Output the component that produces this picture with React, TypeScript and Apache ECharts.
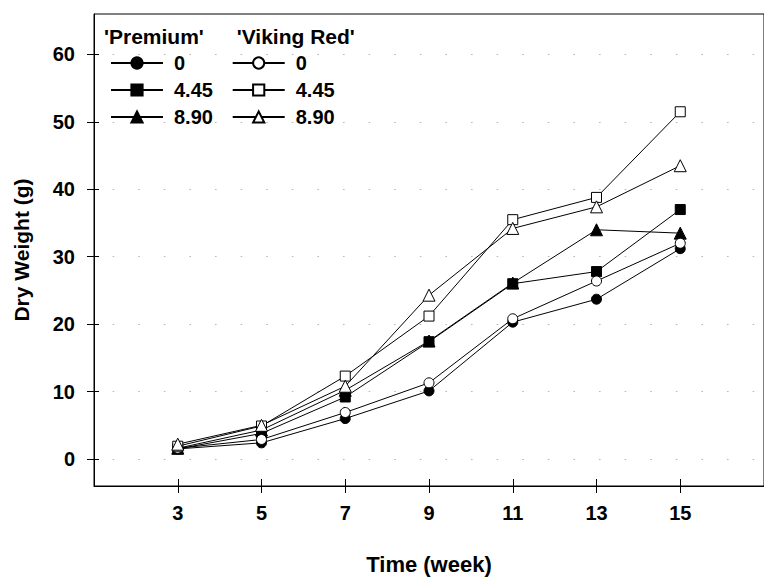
import React, { useEffect, useRef } from "react";
import * as echarts from "echarts";

const weeks = [3, 5, 7, 9, 11, 13, 15];
const xTicks = [3, 5, 7, 9, 11, 13, 15];
const yTicks = [0, 10, 20, 30, 40, 50, 60];

const premium0 = [1.5, 2.4, 6.0, 10.1, 20.3, 23.7, 31.2];
const premium445 = [1.5, 3.8, 9.2, 17.4, 26.0, 27.8, 37.0];
const premium890 = [1.6, 4.3, 10.2, 17.5, 26.1, 34.0, 33.5];
const viking0 = [1.6, 2.9, 6.9, 11.3, 20.8, 26.4, 32.0];
const viking445 = [1.9, 4.9, 12.3, 21.2, 35.5, 38.8, 51.5];
const viking890 = [2.2, 5.0, 10.8, 24.3, 34.2, 37.4, 43.5];

const premiumNames = ["Premium 0", "Premium 4.45", "Premium 8.90"];
const vikingNames = ["Viking Red 0", "Viking Red 4.45", "Viking Red 8.90"];

const FONT = "'Liberation Sans', Arial, sans-serif";

export default function App() {
  const ref = useRef<HTMLDivElement>(null);
  useEffect(() => {
    if (!ref.current) return;
    const chart = echarts.init(ref.current, null, { renderer: "svg" });
    const pair = (vals: number[]) => weeks.map((w, i) => [w, vals[i]]);
    const mk = (name: string, vals: number[], symbol: string, filled: boolean, size: number) => ({
      name,
      type: "line",
      xAxisIndex: 0,
      yAxisIndex: 0,
      data: pair(vals),
      symbol,
      symbolSize: size,
      showSymbol: true,
      lineStyle: { color: "#000", width: 1 },
      itemStyle: { color: filled ? "#000" : "#fff", borderColor: "#000", borderWidth: 1 },
      emphasis: { disabled: true },
    });
    const axisTextStyle = { fontFamily: FONT, fontSize: 20, fontWeight: "bold", color: "#000" };
    const legendBase = {
      orient: "vertical",
      itemWidth: 52,
      itemHeight: 14,
      itemGap: 7,
      selectedMode: false,
      textStyle: { ...axisTextStyle, padding: [0, 0, 0, 6] },
      formatter: (n: string) => n.split(" ").pop(),
    };
    chart.setOption({
      animation: false,
      backgroundColor: "#fff",
      grid: {
        left: 94,
        top: 14,
        right: -8.4,
        bottom: 88.3,
        show: true,
        borderColor: "#000",
        borderWidth: 1,
        backgroundColor: "transparent",
      },
      xAxis: [
        {
          type: "value",
          min: 1,
          max: 17,
          position: "bottom",
          name: "Time (week)",
          nameLocation: "middle",
          nameGap: 67,
          nameTextStyle: { ...axisTextStyle, fontSize: 22 },
          axisLine: { show: true, onZero: false, lineStyle: { color: "#000", width: 1 } },
          axisTick: { show: true, inside: false, length: 7, customValues: xTicks, lineStyle: { color: "#000" } },
          axisLabel: { ...axisTextStyle, margin: 17, customValues: xTicks },
          splitLine: { show: false },
        },
        {
          type: "value",
          min: 1,
          max: 17,
          position: "bottom",
          axisLine: { show: false, onZero: false },
          axisTick: { show: true, inside: true, length: 7, customValues: xTicks, lineStyle: { color: "#000" } },
          axisLabel: { show: false },
          splitLine: { show: false },
        },
      ],
      yAxis: [
        {
          type: "value",
          min: -4,
          max: 66,
          position: "left",
          name: "Dry Weight (g)",
          nameLocation: "middle",
          nameGap: 62,
          nameTextStyle: { ...axisTextStyle, fontSize: 21 },
          axisLine: { show: true, onZero: false, lineStyle: { color: "#000", width: 1 } },
          axisTick: { show: true, inside: false, length: 7, customValues: yTicks, lineStyle: { color: "#000" } },
          axisLabel: { ...axisTextStyle, margin: 19, customValues: yTicks },
          splitLine: {
            show: true,
            lineStyle: { color: "#b8b8b8", width: 1.2, type: [1.6, 24], dashOffset: 6.6 },
          },
        },
        {
          type: "value",
          min: -4,
          max: 66,
          position: "left",
          axisLine: { show: false, onZero: false },
          axisTick: { show: true, inside: true, length: 5, customValues: yTicks, lineStyle: { color: "#000" } },
          axisLabel: { show: false },
          splitLine: { show: false },
        },
      ],
      legend: [
        { ...legendBase, left: 105, top: 48, data: premiumNames },
        { ...legendBase, left: 226.7, top: 48, data: vikingNames },
      ],
      graphic: [
        {
          type: "text",
          x: 104,
          y: 36,
          style: { text: "'Premium'", font: `bold 21px ${FONT}`, fill: "#000", verticalAlign: "middle" },
        },
        {
          type: "text",
          x: 236.7,
          y: 36,
          style: { text: "'Viking Red'", font: `bold 21px ${FONT}`, fill: "#000", verticalAlign: "middle" },
        },
      ],
      series: [
        mk(premiumNames[0], premium0, "circle", true, 10),
        mk(premiumNames[1], premium445, "rect", true, 10),
        mk(premiumNames[2], premium890, "triangle", true, 12),
        mk(vikingNames[0], viking0, "circle", false, 10),
        mk(vikingNames[1], viking445, "rect", false, 10),
        mk(vikingNames[2], viking890, "triangle", false, 12),
      ],
    });
    return () => chart.dispose();
  }, []);
  return (
    <div
      ref={ref}
      style={{ position: "absolute", left: 0, top: 0, width: 764, height: 580, overflow: "hidden" }}
    />
  );
}
